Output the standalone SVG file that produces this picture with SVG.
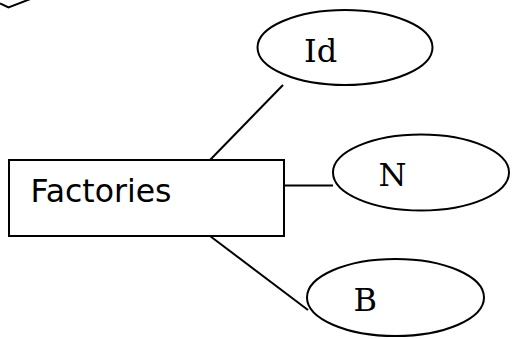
<svg xmlns="http://www.w3.org/2000/svg" width="516" height="339" viewBox="0 0 516 339">
  <style>
    .shape { fill: #ffffff; stroke: #000000; stroke-width: 2; }
    .edge { fill: none; stroke: #000000; stroke-width: 2; }
    .entity-label { font-family: "DejaVu Sans", sans-serif; font-size: 31.5px; fill: #000000; }
    .attr-label { font-family: "DejaVu Serif", serif; font-size: 32px; fill: #000000; }
  </style>
  <rect width="516" height="339" fill="#ffffff"/>

  <!-- partially visible relationship diamond at the top edge -->
  <g id="relationship">
    <polyline class="edge" points="0,3.5 8.5,7.5 33,-2"/>
  </g>

  <g id="connectors">
    <line class="edge" x1="210" y1="160" x2="283" y2="85"/>
    <line class="edge" x1="284" y1="185.5" x2="333" y2="185.5"/>
    <line class="edge" x1="210" y1="236" x2="308" y2="310"/>
  </g>

  <g id="factories">
    <rect class="shape" x="9" y="160" width="275" height="76"/>
    <text class="entity-label" x="30.5" y="201.5">Factories</text>
  </g>

  <g id="attr-id">
    <ellipse class="shape" cx="345" cy="47.5" rx="87.5" ry="37.5"/>
    <text class="attr-label" x="304" y="62">Id</text>
  </g>

  <g id="attr-n">
    <ellipse class="shape" cx="421" cy="172.5" rx="88" ry="38"/>
    <text class="attr-label" x="378.5" y="186">N</text>
  </g>

  <g id="attr-b">
    <ellipse class="shape" cx="395.5" cy="297.5" rx="88.5" ry="38.5"/>
    <text class="attr-label" x="353.5" y="311">B</text>
  </g>
</svg>
